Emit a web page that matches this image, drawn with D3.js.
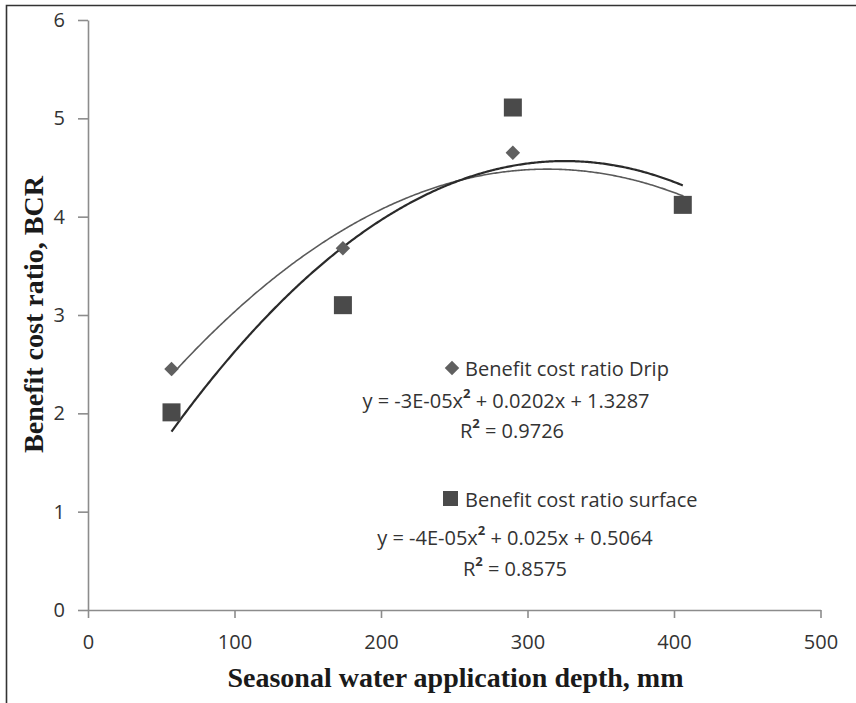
<!DOCTYPE html>
<html>
<head>
<meta charset="utf-8">
<script src="https://cdn.jsdelivr.net/npm/d3@7"></script>
<style>
  html, body { margin: 0; padding: 0; background: #fff; }
  svg { display: block; }
</style>
</head>
<body>
<div id="chart"></div>
<script>
// ---- data ----
const depthDrip = [57, 174, 290, 406];
const bcrDrip = [2.45, 3.68, 4.65, 4.15];
const depthSurface = [57, 174, 290, 406];
const bcrSurface = [2.01, 3.10, 5.11, 4.12];
const xTicks = [0, 100, 200, 300, 400, 500];
const yTicks = [0, 1, 2, 3, 4, 5, 6];
const legendDrip = "Benefit cost ratio Drip";
const legendSurface = "Benefit cost ratio surface";
const eqDrip = ["y = -3E-05x", "2", " + 0.0202x + 1.3287"];
const r2Drip = ["R", "2", " = 0.9726"];
const eqSurface = ["y = -4E-05x", "2", " + 0.025x + 0.5064"];
const r2Surface = ["R", "2", " = 0.8575"];
const xTitle = "Seasonal water application depth, mm";
const yTitle = "Benefit cost ratio, BCR";

// ---- quadratic least squares fit ----
function quadFit(xs, ys) {
  const n = xs.length;
  let S = [0,0,0,0,0], T = [0,0,0];
  for (let i = 0; i < n; i++) {
    const x = xs[i], y = ys[i];
    for (let k = 0; k < 5; k++) S[k] += Math.pow(x, k);
    for (let k = 0; k < 3; k++) T[k] += y * Math.pow(x, k);
  }
  const A = [[S[0],S[1],S[2],T[0]],[S[1],S[2],S[3],T[1]],[S[2],S[3],S[4],T[2]]];
  for (let c = 0; c < 3; c++) {
    let p = c;
    for (let r = c+1; r < 3; r++) if (Math.abs(A[r][c]) > Math.abs(A[p][c])) p = r;
    [A[c], A[p]] = [A[p], A[c]];
    for (let r = 0; r < 3; r++) {
      if (r === c) continue;
      const f = A[r][c] / A[c][c];
      for (let k = c; k < 4; k++) A[r][k] -= f * A[c][k];
    }
  }
  const coef = [A[0][3]/A[0][0], A[1][3]/A[1][1], A[2][3]/A[2][2]];
  return x => coef[0] + coef[1]*x + coef[2]*x*x;
}

const W = 856, H = 703;
const svg = d3.select("#chart").append("svg").attr("width", W).attr("height", H);
svg.append("rect").attr("width", W).attr("height", H).attr("fill", "#fff");

// outer frame (left + top)
svg.append("path").attr("d", `M6.5,${H} V5.5 H${W}`).attr("fill", "none")
  .attr("stroke", "#333").attr("stroke-width", 1.6);

const x = d3.scaleLinear().domain([0, 500]).range([88, 820.5]);
const y = d3.scaleLinear().domain([0, 6]).range([610, 20]);

const tickFont = "'Open Sans', sans-serif";
const axisColor = "#8c8c8c";

const gy = svg.append("g").attr("transform", `translate(${x(0)},0)`)
  .call(d3.axisLeft(y).tickValues(yTicks).tickFormat(d3.format("d")).tickSize(10).tickSizeOuter(0).tickPadding(13));
const gx = svg.append("g").attr("transform", `translate(0,${y(0)})`)
  .call(d3.axisBottom(x).tickValues(xTicks).tickFormat(d3.format("d")).tickSize(8).tickSizeOuter(0).tickPadding(17));
[gx, gy].forEach(g => {
  g.selectAll("path.domain").attr("stroke", axisColor).attr("stroke-width", 1.6);
  g.selectAll(".tick line").attr("stroke", axisColor).attr("stroke-width", 1.6);
  g.selectAll(".tick text").attr("font-family", tickFont).attr("font-size", 20).attr("fill", "#333");
});

// trend lines
const xs = d3.range(d3.min(depthDrip), d3.max(depthDrip) + 0.5, 1);
const fDrip = quadFit(depthDrip, bcrDrip);
const fSurf = quadFit(depthSurface, bcrSurface);
const line = f => d3.line().x(d => x(d)).y(d => y(f(d))).curve(d3.curveLinear)(xs);

svg.append("path").attr("d", line(fDrip)).attr("fill", "none")
  .attr("stroke", "#5a5a5a").attr("stroke-width", 1.6);
svg.append("path").attr("d", line(fSurf)).attr("fill", "none")
  .attr("stroke", "#2a2a2a").attr("stroke-width", 2.2);

// markers
svg.selectAll("path.drip").data(depthDrip).enter().append("path")
  .attr("class", "drip")
  .attr("d", d3.symbol().type(d3.symbolSquare).size(105)())
  .attr("transform", (d, i) => `translate(${x(d)},${y(bcrDrip[i])}) rotate(45)`)
  .attr("fill", "#606060");
svg.selectAll("rect.surf").data(depthSurface).enter().append("rect")
  .attr("class", "surf")
  .attr("x", d => x(d) - 9).attr("width", 18)
  .attr("y", (d, i) => y(bcrSurface[i]) - 9).attr("height", 18)
  .attr("fill", "#4a4a4a");

// annotations
const annFont = "'Open Sans', sans-serif";
const annColor = "#333";
const annSize = 20;
function supText(parts, cx, cy) {
  const t = svg.append("text").attr("x", cx).attr("y", cy).attr("text-anchor", "middle")
    .attr("dominant-baseline", "central")
    .attr("font-family", annFont).attr("font-size", annSize).attr("fill", annColor);
  t.append("tspan").text(parts[0]);
  t.append("tspan").attr("font-size", 13).attr("dy", -7).attr("font-weight", "bold").text(parts[1]);
  t.append("tspan").attr("dy", 7).text(parts[2]);
}
svg.append("path").attr("d", d3.symbol().type(d3.symbolSquare).size(105)())
  .attr("transform", `translate(452,368) rotate(45)`).attr("fill", "#606060");
svg.append("text").attr("x", 465).attr("y", 368).attr("dominant-baseline", "central")
  .attr("font-family", annFont).attr("font-size", annSize).attr("fill", annColor).text(legendDrip);
supText(eqDrip, 506, 400);
supText(r2Drip, 512, 430);

svg.append("rect").attr("x", 443).attr("y", 491).attr("width", 15).attr("height", 15).attr("fill", "#4a4a4a");
svg.append("text").attr("x", 465).attr("y", 499).attr("dominant-baseline", "central")
  .attr("font-family", annFont).attr("font-size", annSize).attr("fill", annColor).text(legendSurface);
supText(eqSurface, 515, 537);
supText(r2Surface, 515, 568);

// axis titles
svg.append("text").attr("x", 455.5).attr("y", 687).attr("text-anchor", "middle")
  .attr("font-family", "'Liberation Serif', 'Times New Roman', serif").attr("font-weight", "bold")
  .attr("font-size", 28).attr("fill", "#1a1a1a").text(xTitle);
svg.append("text").attr("transform", `translate(43,314.5) rotate(-90)`).attr("text-anchor", "middle")
  .attr("font-family", "'Liberation Serif', 'Times New Roman', serif").attr("font-weight", "bold")
  .attr("font-size", 28).attr("fill", "#1a1a1a").text(yTitle);
</script>
</body>
</html>
